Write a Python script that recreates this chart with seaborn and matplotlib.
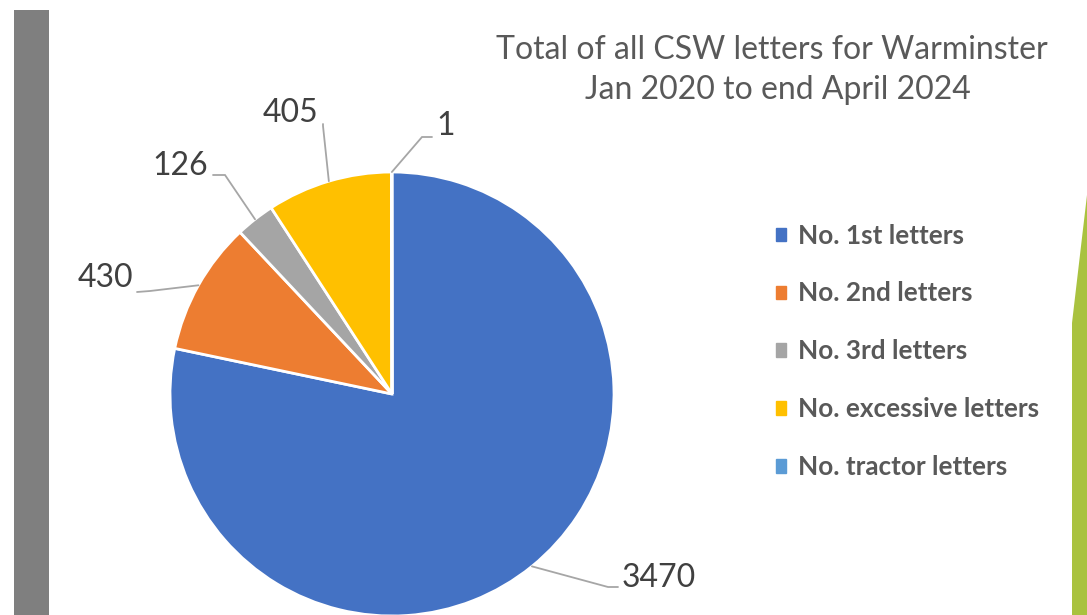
import numpy as np
import matplotlib
matplotlib.use("Agg")
import matplotlib.pyplot as plt
import matplotlib.patches as mpatches
import seaborn as sns

# data
categories = ["No. 1st letters", "No. 2nd letters", "No. 3rd letters",
              "No. excessive letters", "No. tractor letters"]
counts = [3470, 430, 126, 405, 1]
colors = ["#4472C4", "#ED7D31", "#A5A5A5", "#FFC000", "#5B9BD5"]
title_lines = ["Total of all CSW letters for Warminster", "Jan 2020 to end April 2024"]

sns.set_theme(style="white")
plt.rcParams['font.family'] = ['Lato', 'DejaVu Sans']

W, H = 1087, 615
fig = plt.figure(figsize=(W / 100, H / 100), dpi=100)
ax = fig.add_axes([0, 0, 1, 1])

# pixel coords with y pointing up
def py(y):
    return H - y

cx, cy, r = 392, py(394), 222
wedges, _ = ax.pie(counts, colors=colors, startangle=90, counterclock=False,
                   center=(cx, cy), radius=r,
                   wedgeprops=dict(edgecolor="white", linewidth=2))

# leader lines + labels (elbow / text positions are layout)
total = sum(counts)
cum = np.cumsum([0] + counts[:-1])
label_layout = [
    # elbow, end, text pos, ha
    ((608, 587), (618, 587), (622, 578), "left"),
    ((150, 291), (137, 292), (133, 278), "right"),
    ((225, 175), (213, 175), (208, 166), "right"),
    ((323, 126), (323, 124), (318, 113), "right"),
    ((422, 137), (432, 137), (436, 126), "left"),
]
for i, v in enumerate(counts):
    ang = np.deg2rad(90 - (cum[i] + v / 2) / total * 360)
    ex, ey = cx + r * np.cos(ang), cy + r * np.sin(ang)
    (bx, by), (tx, ty), (lx, ly), ha = label_layout[i]
    ax.plot([ex, bx, tx], [ey, py(by), py(ty)], color="#A6A6A6", lw=1.3,
            solid_joinstyle="miter")
    ax.text(lx, py(ly), f"{v}", ha=ha, va="center", fontsize=23, color="#404040")

# title
ax.text(772, py(50), title_lines[0], ha="center", va="center", fontsize=23, color="#595959")
ax.text(778, py(90), title_lines[1], ha="center", va="center", fontsize=23, color="#595959")

# slide decorations: grey bar left, green sliver right
ax.add_patch(mpatches.Rectangle((14, 0), 35, py(10), color="#7F7F7F", lw=0, zorder=0))
ax.add_patch(mpatches.Polygon([(1072, 0), (1072, py(323)), (1087, py(195)), (1087, 0)],
                              closed=True, color="#A9C23F", lw=0, zorder=0))

ax.set_xlim(0, W)
ax.set_ylim(0, H)
ax.set_aspect("equal")
ax.axis("off")

handles = [mpatches.Patch(color=c) for c in colors]
leg = fig.legend(handles, categories, loc="upper left",
                 bbox_to_anchor=(752 / W, 1 - 200 / H), frameon=False,
                 handlelength=0.4, handleheight=0.4, handletextpad=0.45,
                 labelspacing=1.3, prop=dict(size=18.8, weight="bold"))
for t in leg.get_texts():
    t.set_color("#595959")

fig.savefig("out.png", dpi=100)
